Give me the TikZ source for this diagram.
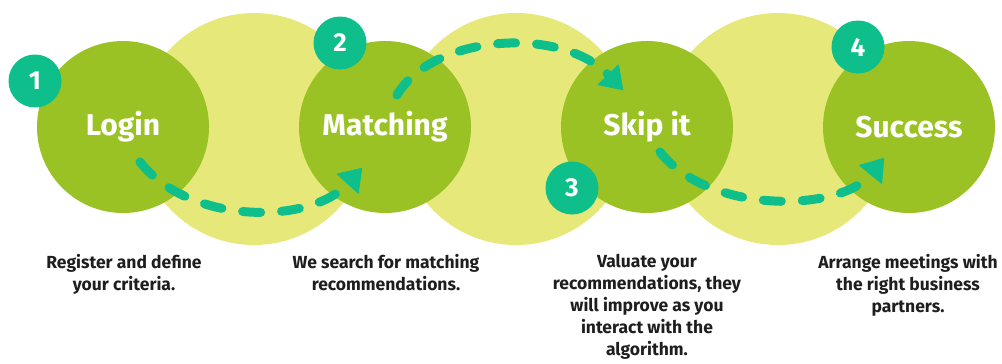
\documentclass[tikz,border=0pt]{standalone}
\usepackage{fontspec}
\setmainfont{Fira Sans}
\usetikzlibrary{arrows.meta,calc}
\definecolor{paleyellow}{RGB}{230,232,122}
\definecolor{leafgreen}{RGB}{155,194,36}
\definecolor{badgeteal}{RGB}{14,191,140}
\definecolor{captiongray}{RGB}{30,30,30}
\begin{document}
\begin{tikzpicture}[x=1pt,y=-1pt,
  halo/.style={circle,fill=paleyellow,minimum size=232pt,inner sep=0pt},
  stage/.style={circle,fill=leafgreen,minimum size=172pt,inner sep=0pt,text=white,font=\fontsize{30}{34}\selectfont\bfseries},
  badge/.style={circle,fill=badgeteal,minimum size=53pt,inner sep=0pt,text=white,font=\fontsize{26}{30}\selectfont\bfseries},
  caption/.style={anchor=north,align=center,text=captiongray,font=\fontsize{17.5}{21.8}\selectfont\bfseries},
  trail/.style={badgeteal,line width=9pt,line cap=round,dash pattern=on 18pt off 21pt,-{Triangle[width=30pt,length=22pt,line width=1pt,fill=badgeteal,round]}}]
 \useasboundingbox (0,0) rectangle (1002,364);
 % background halos
 \node[halo] (h1) at (254,129) {};
 \node[halo] (h2) at (516,129) {};
 \node[halo] (h3) at (778,129) {};
 % stages
 \node[stage] (login) at (123,127) {Login};
 \node[stage] (matching) at (385,127) {Matching};
 \node[stage] (skip) at (647,127) {Skip it};
 \node[stage] (success) at (909,127) {Success};
 % dashed trails
 \coordinate (s1) at ($(login)+(17,35)$);
 \coordinate (e1) at ($(matching)+(-23,41)$);
 \coordinate (s2) at ($(matching)+(12,-32)$);
 \coordinate (e2) at ($(skip)+(-24,-37)$);
 \coordinate (s3) at ($(skip)+(13,25)$);
 \coordinate (e3) at ($(success)+(-25,31)$);
 \draw[trail] (s1) .. controls +(50,63) and +(-52,57) .. (e1);
 \draw[trail] (s2) .. controls +(35,-60) and +(-63,-65) .. (e2);
 \draw[trail] (s3) .. controls +(50,63) and +(-44,54) .. (e3);
 % badges
 \node[badge] (b1) at (35,81) {1};
 \node[badge] (b2) at (340,43) {2};
 \node[badge] (b3) at (572,188) {3};
 \node[badge] (b4) at (858,47) {4};
 % captions
 \node[caption] (c1) at (124,251) {Register and define\\your criteria.};
 \node[caption] (c2) at (386,251) {We search for matching\\recommendations.};
 \node[caption] (c3) at (647,251) {Valuate your\\recommendations, they\\will improve as you\\interact with the\\algorithm.};
 \node[caption] (c4) at (908,251) {Arrange meetings with\\the right business\\partners.};
\end{tikzpicture}
\end{document}
